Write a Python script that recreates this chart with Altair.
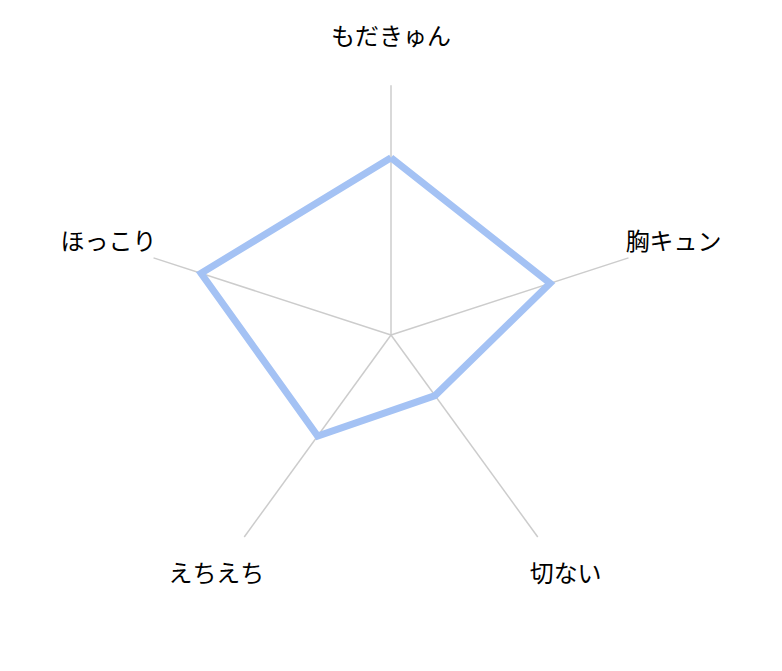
import math
import altair as alt
import pandas as pd

categories = ["もだきゅん", "胸キュン", "切ない", "えちえち", "ほっこり"]
values = [0.71, 0.67, 0.30, 0.50, 0.80]
max_value = 1.0
label_radius = 1.19

n = len(categories)
angles = [2 * math.pi * i / n for i in range(n)]

poly = pd.DataFrame({
    "cat": categories + [categories[0]],
    "order": list(range(n + 1)),
    "v": values + [values[0]],
    "a": angles + [angles[0]],
})
poly["x"] = poly["v"] * poly["a"].apply(math.sin)
poly["y"] = poly["v"] * poly["a"].apply(math.cos)

spokes = pd.DataFrame({
    "cat": categories,
    "x0": [0.0] * n,
    "y0": [0.0] * n,
    "x": [max_value * math.sin(a) for a in angles],
    "y": [max_value * math.cos(a) for a in angles],
})

labels = pd.DataFrame({
    "cat": categories,
    "x": [label_radius * math.sin(a) for a in angles],
    "y": [label_radius * math.cos(a) for a in angles],
})

W, H = 767, 654
R = 250.0
xd = (W / 2) / R
yd = (H / 2) / R
xs = alt.Scale(domain=[-xd, xd], nice=False, zero=False)
ys = alt.Scale(domain=[-yd, yd], nice=False, zero=False)

spoke_layer = alt.Chart(spokes).mark_rule(color="#cccccc", strokeWidth=1.5).encode(
    x=alt.X("x0:Q", scale=xs, axis=None),
    y=alt.Y("y0:Q", scale=ys, axis=None),
    x2="x:Q",
    y2="y:Q",
)

line_layer = alt.Chart(poly).mark_line(color="#a4c2f4", strokeWidth=7, strokeJoin="miter").encode(
    x=alt.X("x:Q", scale=xs, axis=None),
    y=alt.Y("y:Q", scale=ys, axis=None),
    order="order:Q",
)

label_layer = alt.Chart(labels).mark_text(
    font="Noto Sans CJK JP", fontSize=24, color="#000000", align="center", baseline="middle"
).encode(
    x=alt.X("x:Q", scale=xs, axis=None),
    y=alt.Y("y:Q", scale=ys, axis=None),
    text="cat:N",
)

chart = alt.layer(spoke_layer, line_layer, label_layer).properties(
    width=W, height=H, padding=0, autosize="none"
).configure_view(stroke=None)

chart.save("out.html", embed_options={"renderer": "svg", "actions": False})
